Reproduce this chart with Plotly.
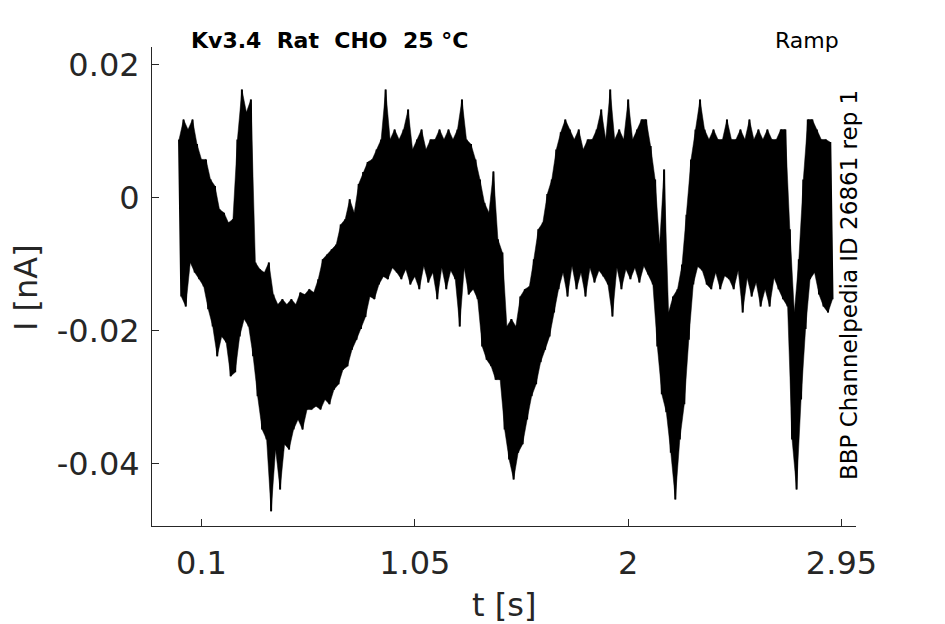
import numpy as np
import plotly.graph_objects as go

t_step = 0.02
upper = [
	0.0087, 0.0117, 0.0102, 0.0117, 0.0080, 0.0057, 0.0057, 0.0027, 0.0017, -0.0018,
	-0.0023, -0.0038, -0.0033, 0.0087, 0.0162, 0.0128, 0.0147, -0.0098, -0.0108, -0.0113,
	-0.0098, -0.0146, -0.0161, -0.0153, -0.0161, -0.0153, -0.0161, -0.0143, -0.0146, -0.0138,
	-0.0143, -0.0123, -0.0093, -0.0086, -0.0078, -0.0071, -0.0041, -0.0033, -0.0003, -0.0023,
	0.0020, 0.0038, 0.0053, 0.0057, 0.0072, 0.0087, 0.0162, 0.0087, 0.0102, 0.0087,
	0.0102, 0.0132, 0.0072, 0.0087, 0.0102, 0.0072, 0.0087, 0.0087, 0.0102, 0.0087,
	0.0102, 0.0087, 0.0102, 0.0147, 0.0087, 0.0080, 0.0057, 0.0027, -0.0008, -0.0023,
	0.0039, -0.0063, -0.0083, -0.0194, -0.0183, -0.0194, -0.0149, -0.0138, -0.0134, -0.0093,
	-0.0048, -0.0038, 0.0005, 0.0027, 0.0072, 0.0098, 0.0117, 0.0102, 0.0087, 0.0102,
	0.0072, 0.0087, 0.0087, 0.0102, 0.0132, 0.0087, 0.0162, 0.0087, 0.0102, 0.0087,
	0.0147, 0.0087, 0.0102, 0.0117, 0.0117, 0.0077, 0.0027, -0.0071, 0.0042, -0.0173,
	-0.0149, -0.0138, -0.0101, -0.0026, 0.0057, 0.0102, 0.0147, 0.0102, 0.0087, 0.0102,
	0.0087, 0.0087, 0.0117, 0.0087, 0.0087, 0.0102, 0.0087, 0.0117, 0.0087, 0.0102,
	0.0087, 0.0102, 0.0087, 0.0087, 0.0102, 0.0102, -0.0048, -0.0173, -0.0093, 0.0027,
	0.0117, 0.0117, 0.0102, 0.0087, 0.0087, 0.0083,
]
lower = [
	-0.0149, -0.0164, -0.0098, -0.0113, -0.0123, -0.0134, -0.0168, -0.0194, -0.0239, -0.0209,
	-0.0218, -0.0269, -0.0263, -0.0209, -0.0183, -0.0194, -0.0239, -0.0299, -0.0349, -0.0364,
	-0.0472, -0.0379, -0.0439, -0.0371, -0.0379, -0.0349, -0.0334, -0.0349, -0.0319, -0.0319,
	-0.0314, -0.0319, -0.0304, -0.0311, -0.0289, -0.0281, -0.0259, -0.0254, -0.0229, -0.0214,
	-0.0198, -0.0180, -0.0149, -0.0153, -0.0131, -0.0119, -0.0123, -0.0106, -0.0113, -0.0123,
	-0.0108, -0.0131, -0.0119, -0.0138, -0.0103, -0.0128, -0.0113, -0.0153, -0.0106, -0.0138,
	-0.0110, -0.0123, -0.0194, -0.0106, -0.0146, -0.0138, -0.0153, -0.0224, -0.0244, -0.0254,
	-0.0274, -0.0274, -0.0349, -0.0394, -0.0424, -0.0384, -0.0371, -0.0334, -0.0299, -0.0281,
	-0.0248, -0.0229, -0.0209, -0.0173, -0.0138, -0.0113, -0.0149, -0.0103, -0.0138, -0.0113,
	-0.0149, -0.0106, -0.0128, -0.0110, -0.0119, -0.0131, -0.0179, -0.0106, -0.0138, -0.0108,
	-0.0123, -0.0106, -0.0128, -0.0103, -0.0116, -0.0131, -0.0224, -0.0296, -0.0323, -0.0384,
	-0.0454, -0.0364, -0.0311, -0.0214, -0.0131, -0.0104, -0.0110, -0.0131, -0.0138, -0.0113,
	-0.0138, -0.0118, -0.0123, -0.0138, -0.0110, -0.0173, -0.0121, -0.0149, -0.0128, -0.0164,
	-0.0138, -0.0164, -0.0121, -0.0138, -0.0153, -0.0164, -0.0364, -0.0439, -0.0304, -0.0198,
	-0.0123, -0.0113, -0.0146, -0.0164, -0.0173, -0.0153,
]
x_ticks = [0.1, 1.05, 2, 2.95]
x_ticklabels = ["0.1", "1.05", "2", "2.95"]
y_ticks = [-0.04, -0.02, 0, 0.02]
y_ticklabels = ["-0.04", "-0.02", "0", "0.02"]

title_txt = "Kv3.4\u00a0\u00a0Rat\u00a0\u00a0CHO\u00a0\u00a025\u00a0°C"
protocol = "Ramp"
source_txt = "BBP Channelpedia ID 26861 rep 1"

# interleave bin max / min so the line sweeps the band like the raw trace
n = len(upper)
t = np.arange(n) * t_step
x = np.empty(2 * n)
y = np.empty(2 * n)
x[0::2] = t
x[1::2] = t + t_step / 2
y[0::2] = upper
y[1::2] = lower

# solid band between the max and min readings, under the zigzag
band_x = np.concatenate([x[0::2], x[1::2][::-1]])
band_y = np.concatenate([upper, lower[::-1]])

gray = "#262626"
fig = go.Figure()
fig.add_trace(go.Scatter(x=band_x, y=band_y, mode="lines", fill="toself", fillcolor="black",
	line=dict(color="black", width=0.5), hoverinfo="skip"))
fig.add_trace(go.Scatter(x=x, y=y, mode="lines", line=dict(color="black", width=2), hoverinfo="skip"))

fig.update_xaxes(
	range=[-0.1204, 3.0146], tickvals=x_ticks, ticktext=x_ticklabels,
	ticks="inside", ticklen=7, tickcolor=gray, tickwidth=1,
	showline=True, linecolor=gray, linewidth=1, showgrid=False, zeroline=False,
	tickfont=dict(family="DejaVu Sans", size=32, color=gray), ticklabelstandoff=9,
)
fig.update_yaxes(
	range=[-0.0494, 0.0226], tickvals=y_ticks, ticktext=y_ticklabels,
	ticks="inside", ticklen=7, tickcolor=gray, tickwidth=1,
	showline=True, linecolor=gray, linewidth=1, showgrid=False, zeroline=False,
	tickfont=dict(family="DejaVu Sans", size=32, color=gray), ticklabelstandoff=5,
)

# page body has an 8px margin, so the figure is 8px smaller and margins shifted
fig.update_layout(
	width=937, height=616,
	margin=dict(l=144, r=89, t=39, b=98),
	paper_bgcolor="white", plot_bgcolor="white",
	showlegend=False,
	font=dict(family="DejaVu Sans", color=gray),
	annotations=[
		dict(text="<b>" + title_txt + "</b>", xref="paper", yref="paper", x=(329 - 152) / 704, y=1,
			xanchor="center", yanchor="middle", yshift=7, showarrow=False,
			font=dict(family="DejaVu Sans", size=22, color="black")),
		dict(text=protocol, xref="paper", yref="paper", x=(807 - 152) / 704, y=1,
			xanchor="center", yanchor="middle", yshift=7, showarrow=False,
			font=dict(family="DejaVu Sans", size=22, color="black")),
		dict(text=source_txt, xref="paper", yref="paper", x=(849 - 152) / 704, y=(526 - 285) / 479,
			xanchor="center", yanchor="middle", textangle=-90, showarrow=False,
			font=dict(family="DejaVu Sans", size=23, color="black")),
		dict(text="t [s]", xref="paper", yref="paper", x=0.5, y=0,
			xanchor="center", yanchor="middle", yshift=-79, showarrow=False,
			font=dict(family="DejaVu Sans", size=32, color=gray)),
		dict(text="I [nA]", xref="paper", yref="paper", x=0, y=(526 - 288) / 479,
			xanchor="center", yanchor="middle", xshift=-126, textangle=-90, showarrow=False,
			font=dict(family="DejaVu Sans", size=32, color=gray)),
	],
)

fig.write_html("out.html")
